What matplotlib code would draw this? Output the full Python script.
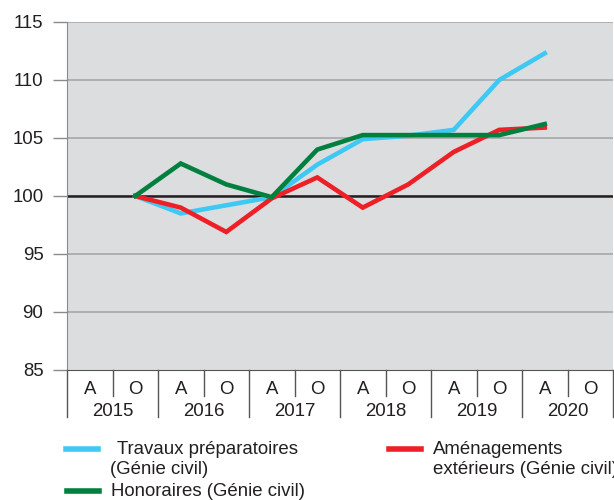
import matplotlib
matplotlib.use("Agg")
import matplotlib.pyplot as plt
from matplotlib.lines import Line2D

plt.rcParams["font.family"] = ["Liberation Sans", "DejaVu Sans"]

# Data (index base 100 = O 2015)
years = ["2015", "2016", "2017", "2018", "2019", "2020"]
halves = ["A", "O"]
travaux = [100, 98.5, 99.2, 99.9, 102.7, 104.9, 105.2, 105.7, 110.0, 112.3]
amenagements = [100, 99.0, 96.9, 99.8, 101.6, 99.0, 101.0, 103.8, 105.7, 105.9]
honoraires = [100, 102.8, 101.0, 99.9, 104.0, 105.25, 105.25, 105.25, 105.25, 106.2]

blue = "#3ec8f4"
red = "#ee2027"
green = "#00803f"
txt = "#231f20"
fs = 13.4

n_cells = len(years) * len(halves)
xs = list(range(1, 1 + len(travaux)))  # starts at O 2015

fig = plt.figure(figsize=(6.14, 5.0), dpi=100)
ax = fig.add_axes([67 / 614, 1 - 370 / 500, 546 / 614, 348 / 500])
ax.set_facecolor("#dcdddf")

ax.set_xlim(-0.5, n_cells - 0.5)
ax.set_ylim(85, 115)
ax.set_yticks(range(85, 116, 5))
for v in range(90, 116, 5):
    ax.axhline(v, color="#a7a8aa", lw=1.2, zorder=1)
ax.axhline(100, color=txt, lw=1.8, zorder=2)

ax.plot(xs, travaux, color=blue, lw=3.3, zorder=3, solid_joinstyle="miter")
ax.plot(xs, amenagements, color=red, lw=3.3, zorder=4, solid_joinstyle="miter")
ax.plot(xs, honoraires, color=green, lw=3.3, zorder=5, solid_joinstyle="miter")

for s in ["top", "right"]:
    ax.spines[s].set_visible(False)
ax.spines["left"].set_color("#8a8a8a")
ax.spines["bottom"].set_color("#555555")
ax.tick_params(axis="y", length=10, width=1, color="#8a8a8a", labelsize=fs,
               labelcolor=txt, pad=7)
ax.tick_params(axis="x", bottom=False, labelbottom=False)

# category table below the plot
tr = ax.get_xaxis_transform()
for k in range(n_cells + 1):
    x = k - 0.5
    depth = -47 / 348 if k % 2 == 0 else -26 / 348
    ax.plot([x, x], [0, depth], transform=tr, color="#555555", lw=1, clip_on=False)
for i, y in enumerate(years):
    for j, h in enumerate(halves):
        ax.text(2 * i + j, -20 / 348, h, transform=tr, ha="center", va="center",
                fontsize=fs, color=txt)
    ax.text(2 * i + 0.5, -42 / 348, y, transform=tr, ha="center", va="center",
            fontsize=fs, color=txt)

# legend
def fy(py):
    return 1 - py / 500

def fx(px):
    return px / 614

fig.add_artist(Line2D([fx(66), fx(98)], [fy(449), fy(449)], color=blue, lw=4))
fig.add_artist(Line2D([fx(67), fx(99)], [fy(491), fy(491)], color=green, lw=4))
fig.add_artist(Line2D([fx(389), fx(421)], [fy(449), fy(449)], color=red, lw=4))
legend_lines = [
    (117, 449, "Travaux préparatoires"),
    (110, 469, "(Génie civil)"),
    (111, 491, "Honoraires (Génie civil)"),
    (433, 450, "Aménagements"),
    (433, 470, "extérieurs (Génie civil)"),
]
for px, py, s in legend_lines:
    fig.text(fx(px), fy(py), s, fontsize=fs, va="center", ha="left", color=txt)

fig.savefig("out.png", dpi=100)
